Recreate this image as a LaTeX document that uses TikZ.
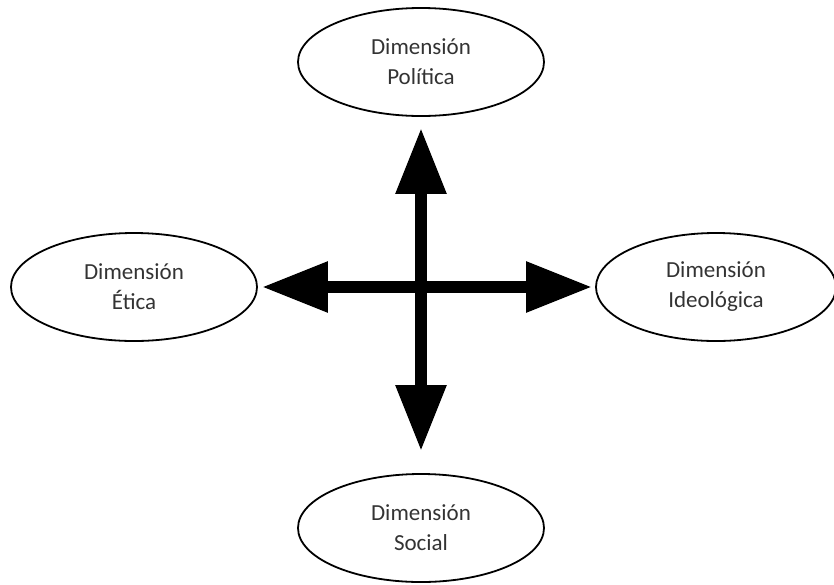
\documentclass[tikz,border=0pt]{standalone}
\usepackage{fontspec}
\setmainfont{Carlito}
\usepackage{tikz}
\usetikzlibrary{shapes.geometric, arrows.meta}

\tikzset{
    dim/.style={ellipse, draw, line width=1.8pt, minimum width=246pt, minimum height=108pt,
        align=center, text=black!80, font=\fontsize{23}{30}\selectfont},
    bigarrow/.style={-{Triangle[length=66pt,width=48pt]}, line width=12pt}
}

\begin{document}
\begin{tikzpicture}[x=1pt,y=-1pt]
        \useasboundingbox (0,0) rectangle (834,584);
        \coordinate (c) at (421,287);
        \node[dim] (pol) at (421,62) {Dimensión\\Política};
        \node[dim] (eti) at (134,287) {Dimensión\\Ética};
        \node[dim, minimum width=240pt] (ideo) at (716,287) {Dimensión\\Ideológica};
        \node[dim] (soc) at (421,528) {Dimensión\\Social};

        \draw[bigarrow, shorten >=11pt] (c) -- (pol);
        \draw[bigarrow, shorten >=4pt] (c) -- (eti);
        \draw[bigarrow, shorten >=3pt] (c) -- (ideo);
        \draw[bigarrow, shorten >=22pt] (c) -- (soc);
    \end{tikzpicture}
\end{document}
